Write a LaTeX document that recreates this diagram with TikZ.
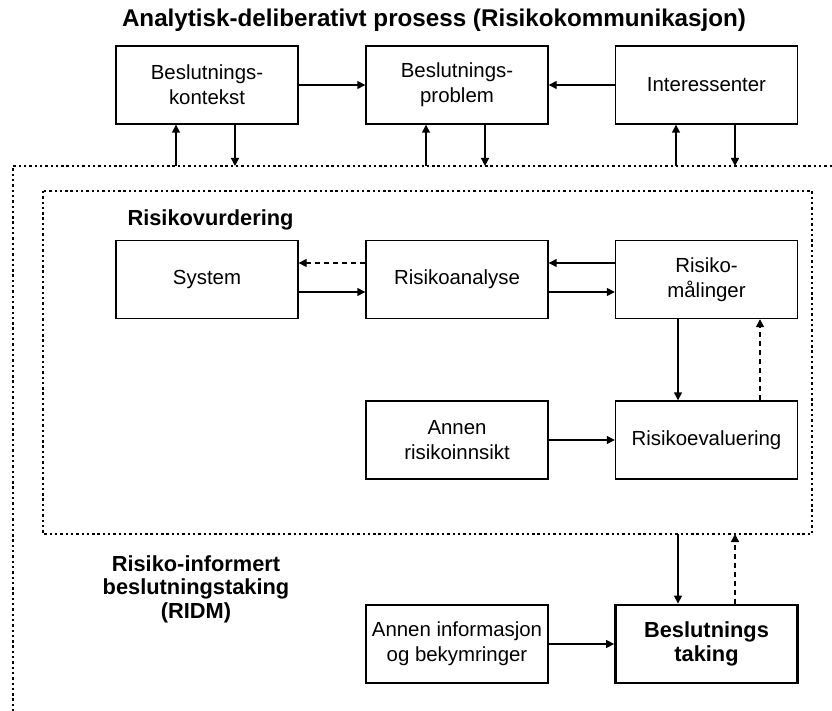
\documentclass[tikz,border=0pt]{standalone}
\usepackage{fontspec}
\setmainfont{Liberation Sans}
\usetikzlibrary{arrows.meta}

\begin{document}
\begin{tikzpicture}[x=1pt,y=-1pt,
  txt/.style={font=\fontsize{20.4}{25}\selectfont},
  boldtxt/.style={font=\fontsize{21.8}{23.5}\selectfont\bfseries},
  titletxt/.style={font=\fontsize{24.2}{28}\selectfont\bfseries},
  box/.style={draw, line width=1.4pt, minimum width=182pt, minimum height=78pt,
    inner sep=0pt, align=center, txt},
  keybox/.style={box, line width=2.8pt, boldtxt},
  arr/.style={line width=1.4pt, -{Triangle[length=8pt,width=8pt]}},
  dashedarr/.style={arr, dash pattern=on 5pt off 4pt},
  dotline/.style={line width=2.4pt, dash pattern=on 2.4pt off 2.9pt}
]
\useasboundingbox (0,0) rectangle (832,711);

% heading of the deliberative process
\node[titletxt, anchor=base] (title) at (434,27) {Analytisk-deliberativt prosess (Risikokommunikasjon)};

% deliberative process boxes
\node[box] (ctx)  at (207,85)   {Beslutnings-\\kontekst};
\node[box] (prob) at (457,85)   {Beslutnings-\\problem};
\node[box] (ints) at (706.5,85) {Interessenter};

\draw[arr] (ctx) -- (prob);
\draw[arr] (ints) -- (prob);

% RIDM frame (open to the right and bottom) and risk assessment frame
\draw[dotline] (832,166) -- (13,166) -- (13,711);
\draw[dotline] (43,191) rectangle (812,534);

% links between the deliberative boxes and the RIDM frame
\coordinate (u1) at (176,166);
\coordinate (d1) at (235,166);
\coordinate (u2) at (426,166);
\coordinate (d2) at (485,166);
\coordinate (u3) at (676,166);
\coordinate (d3) at (735,166);
\draw[arr] (u1) -- (u1 |- ctx.south);
\draw[arr] (d1 |- ctx.south) -- (d1);
\draw[arr] (u2) -- (u2 |- prob.south);
\draw[arr] (d2 |- prob.south) -- (d2);
\draw[arr] (u3) -- (u3 |- ints.south);
\draw[arr] (d3 |- ints.south) -- (d3);

% risk assessment
\node[boldtxt, anchor=base west] (rv) at (124,226) {Risikovurdering};
\node[box] (sys)  at (207,279.5)   {System};
\node[box] (ana)  at (457,279.5)   {Risikoanalyse};
\node[box] (maal) at (706.5,279.5) {Risiko-\\målinger};
\node[box] (oth)  at (457,440)     {Annen\\risikoinnsikt};
\node[box] (eval) at (706.5,440)   {Risikoevaluering};

\draw[dashedarr] ([yshift=16.5pt]ana.west) -- ([yshift=16.5pt]sys.east);
\draw[arr] ([yshift=-12.5pt]sys.east) -- ([yshift=-12.5pt]ana.west);
\draw[arr] ([yshift=16.5pt]maal.west) -- ([yshift=16.5pt]ana.east);
\draw[arr] ([yshift=-12.5pt]ana.east) -- ([yshift=-12.5pt]maal.west);
\draw[arr] ([xshift=-28.5pt]maal.south) -- ([xshift=-28.5pt]eval.north);
\draw[dashedarr] ([xshift=53.5pt]eval.north) -- ([xshift=53.5pt]maal.south);
\draw[arr] (oth) -- (eval);

% decision making
\node[boldtxt, align=center] (ridm) at (196,589) {Risiko-informert\\beslutningstaking\\(RIDM)};
\node[box] (info) at (457,644)   {Annen informasjon\\og bekymringer};
\node[keybox] (dec) at (706.5,644) {Beslutnings\\taking};

\coordinate (r1) at (678,534);
\coordinate (r2) at (735,534);
\draw[arr] (r1) -- (r1 |- dec.north);
\draw[dashedarr] (r2 |- dec.north) -- (r2);
\draw[arr] (info) -- (dec);
\end{tikzpicture}
\end{document}
